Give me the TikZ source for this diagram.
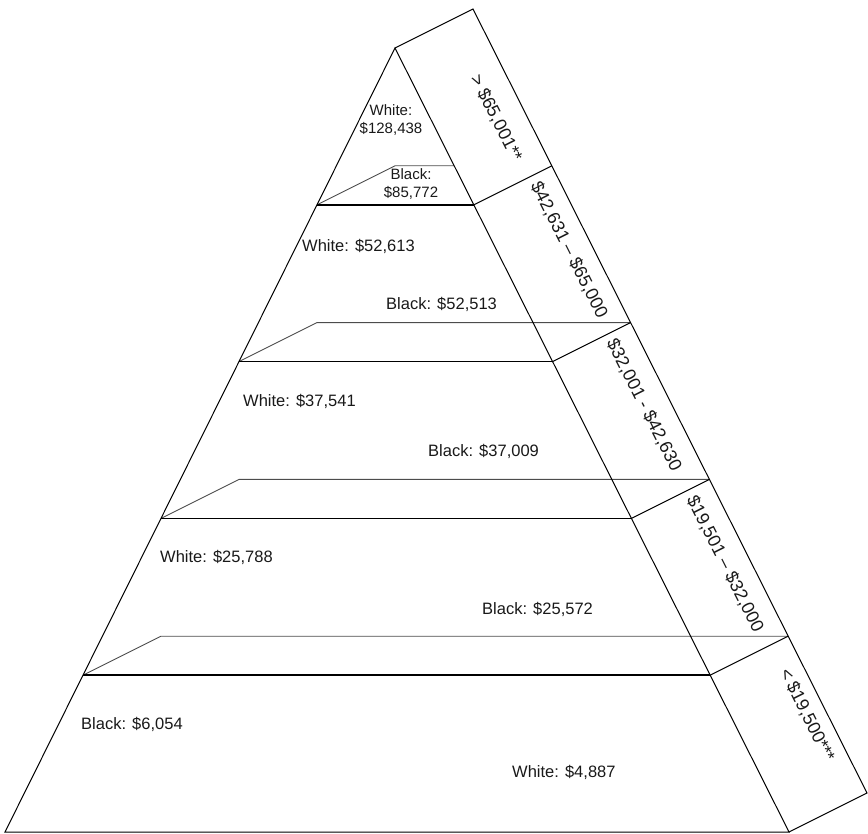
\documentclass[tikz,border=0pt]{standalone}
\usepackage{fontspec}
\setmainfont{Liberation Sans}

\begin{document}
\begin{tikzpicture}[x=1pt,y=-1pt,
    edge/.style={line width=1pt},
    front/.style={line width=1.8pt},
    back/.style={line width=0.9pt,black!70},
    lbl/.style={font=\fontsize{16.5}{19}\selectfont,inner sep=0pt,anchor=west,text=black!90},
    toplbl/.style={font=\fontsize{15}{18}\selectfont,inner sep=0pt,align=center,text=black!90},
    band/.style={font=\fontsize{18}{21}\selectfont,inner sep=0pt,rotate=-63.3,text=black!90}]
  \useasboundingbox (0,0) rectangle (868,834);
  % back edges of the layers
  \draw[back] (317,204.8)--(395,165.8)--(454.2,165.8);
  \draw[back] (239,361.6)--(317,322.6)--(630.6,322.6);
  \draw[back] (161,518.4)--(239,479.4)--(709.4,479.4);
  \draw[back] (83,675.2)--(161,636.2)--(788.2,636.2);
  % front edges
  \draw[front] (317,204.8)--(473.8,204.8);
  \draw[front] (239,361.6)--(552.6,361.6);
  \draw[front] (161,518.4)--(631.4,518.4);
  \draw[front] (83,675.2)--(710.2,675.2);
  % pyramid
  \draw[edge] (395,48)--(5,832)--(789,832)--cycle;
  % income band on the right side
  \draw[edge] (395,48)--(473,9)--(867,793)--(789,832);
  \draw[edge] (473.8,204.8)--(551.8,165.8);
  \draw[edge] (552.6,361.6)--(630.6,322.6);
  \draw[edge] (631.4,518.4)--(709.4,479.4);
  \draw[edge] (710.2,675.2)--(788.2,636.2);
  % medians
  \node[toplbl] (w1) at (391,120) {White:\\\$128,438};
  \node[toplbl] (b1) at (411,184) {Black:\\\$85,772};
  \node[lbl] (w2) at (302,246) {White: \$52,613};
  \node[lbl] (b2) at (386,304) {Black: \$52,513};
  \node[lbl] (w3) at (243,401) {White: \$37,541};
  \node[lbl] (b3) at (428,451) {Black: \$37,009};
  \node[lbl] (w4) at (160,557) {White: \$25,788};
  \node[lbl] (b4) at (482,609) {Black: \$25,572};
  \node[lbl] (b5) at (81,724) {Black: \$6,054};
  \node[lbl] (w5) at (512,772) {White: \$4,887};
  % income ranges
  \node[band] (r1) at (496,118) {> \$65,001**};
  \node[band] (r2) at (569,250) {\$42,631 \textendash{} \$65,000};
  \node[band] (r3) at (644,405) {\$32,001 - \$42,630};
  \node[band] (r4) at (725,564) {\$19,501 \textendash{} \$32,000};
  \node[band] (r5) at (807,715) {< \$19,500***};
\end{tikzpicture}
\end{document}
